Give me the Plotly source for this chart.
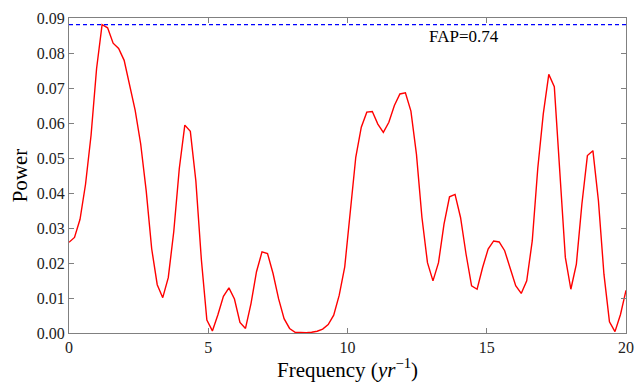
import numpy as np
import plotly.graph_objects as go

# frequency grid (yr^-1), evenly sampled 0..20
frequency = np.linspace(0.0, 20.0, 102)

power = [
    0.0259, 0.0273, 0.0325, 0.0425, 0.0565, 0.0755, 0.0881, 0.0872, 0.0828, 0.0813,
    0.0779, 0.0712, 0.0636, 0.0540, 0.0406, 0.0240, 0.0138, 0.0101, 0.0158, 0.0290,
    0.0470, 0.0594, 0.0576, 0.0435, 0.0210, 0.0037, 0.0006, 0.0052, 0.0105, 0.0129,
    0.0097, 0.0030, 0.0013, 0.0084, 0.0175, 0.0232, 0.0227, 0.0170, 0.0098, 0.0041,
    0.0013, 0.0002, 0.0001, 0.0001, 0.0002, 0.0005, 0.0011, 0.0024, 0.0051, 0.0108,
    0.0189, 0.0340, 0.0502, 0.0588, 0.0631, 0.0633, 0.0597, 0.0573, 0.0602, 0.0650,
    0.0683, 0.0686, 0.0634, 0.0511, 0.0330, 0.0201, 0.0149, 0.0201, 0.0311, 0.0389,
    0.0396, 0.0330, 0.0225, 0.0135, 0.0125, 0.0187, 0.0240, 0.0263, 0.0260, 0.0235,
    0.0187, 0.0135, 0.0113, 0.0149, 0.0263, 0.0470, 0.0626, 0.0739, 0.0704, 0.0464,
    0.0216, 0.0125, 0.0197, 0.0368, 0.0507, 0.0521, 0.0378, 0.0168, 0.0032, 0.0004,
    0.0053, 0.0122,
]

fap_level = 0.0881
fap_label = "FAP=0.74"
x_range = [0, 20]
y_range = [0, 0.09]
x_ticks = [0, 5, 10, 15, 20]
y_ticks = [0.00, 0.01, 0.02, 0.03, 0.04, 0.05, 0.06, 0.07, 0.08, 0.09]

FONT = "Liberation Serif, DejaVu Serif, serif"

fig = go.Figure()
fig.add_trace(go.Scatter(
    x=frequency, y=power, mode="lines",
    line=dict(color="#ff0000", width=1.4), showlegend=False, hoverinfo="skip",
))
fig.add_trace(go.Scatter(
    x=x_range, y=[fap_level, fap_level], mode="lines",
    line=dict(color="#0000ff", width=1.1, dash="4px,3px"), showlegend=False, hoverinfo="skip",
))
fig.add_annotation(
    x=12.85, y=fap_level, xref="x", yref="y", text=fap_label, showarrow=False,
    xanchor="left", yanchor="top", yshift=0,
    font=dict(family=FONT, size=17, color="black"),
)

axis_common = dict(
    showline=True, linecolor="#808080", linewidth=1.2, mirror="allticks",
    ticks="inside", ticklen=5, tickcolor="#808080", tickwidth=1,
    showgrid=False, zeroline=False, automargin=False,
    tickfont=dict(family=FONT, size=16, color="#222222"),
)

fig.update_xaxes(
    range=x_range, tickvals=x_ticks, ticktext=[str(v) for v in x_ticks],
    title=dict(text="Frequency (<i>yr</i><sup>−1</sup>)", font=dict(family=FONT, size=21, color="black"), standoff=8),
    **axis_common,
)
fig.update_yaxes(
    range=y_range, tickvals=y_ticks, ticktext=[f"{v:.2f}" for v in y_ticks],
    title=dict(text="Power", font=dict(family=FONT, size=21, color="black"), standoff=3),
    **axis_common,
)

fig.update_layout(
    width=640, height=382,
    margin=dict(l=69, r=14, t=18, b=49),
    plot_bgcolor="white", paper_bgcolor="white",
)

fig.write_html(
    "out.html",
    config={"displayModeBar": False},
    post_script="document.body.style.margin='0';document.body.style.overflow='hidden';",
)
